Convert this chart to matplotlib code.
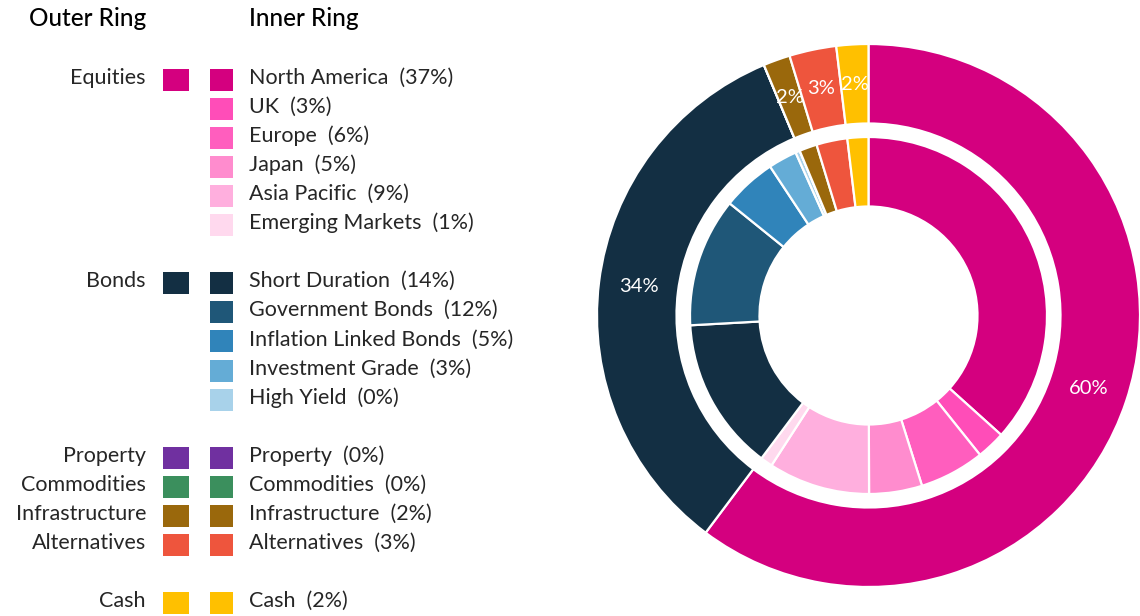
import matplotlib.pyplot as plt
from matplotlib.patches import Rectangle
import numpy as np

plt.rcParams['font.family'] = ['Lato', 'DejaVu Sans']

# inner ring: sub-asset classes (% of portfolio)
inner_names = ['North America', 'UK', 'Europe', 'Japan', 'Asia Pacific', 'Emerging Markets',
               'Short Duration', 'Government Bonds', 'Inflation Linked Bonds',
               'Investment Grade', 'High Yield',
               'Property', 'Commodities', 'Infrastructure', 'Alternatives', 'Cash']
inner_values = [36.7, 2.6, 5.9, 4.8, 9.2, 1.1,
                13.9, 11.7, 4.9, 2.6, 0.4,
                0.0, 0.0, 1.6, 2.8, 1.9]
inner_colors = ['#D4007F', '#FF4DB8', '#FF5EBE', '#FF8CCE', '#FFAFDE', '#FFD9EE',
                '#132F43', '#1F5778', '#3084BA', '#64ACD6', '#A8D2EA',
                '#7030A0', '#3B8F5D', '#9A680C', '#EE553D', '#FFC000']
inner_group = [0, 0, 0, 0, 0, 0, 1, 1, 1, 1, 1, 2, 3, 4, 5, 6]

# outer ring: asset classes
outer_names = ['Equities', 'Bonds', 'Property', 'Commodities', 'Infrastructure', 'Alternatives', 'Cash']
outer_colors = ['#D4007F', '#132F43', '#7030A0', '#3B8F5D', '#9A680C', '#EE553D', '#FFC000']
outer_values = [sum(v for v, g in zip(inner_values, inner_group) if g == i)
                for i in range(len(outer_names))]

# legend row index for each inner entry (blank rows between groups)
legend_rows = [0, 1, 2, 3, 4, 5, 7, 8, 9, 10, 11, 13, 14, 15, 16, 18]

W, H = 1140, 616
fig = plt.figure(figsize=(W / 100, H / 100), dpi=100)

# ---- legend drawn in pixel coordinates
lg = fig.add_axes([0, 0, 1, 1])
lg.set_xlim(0, W)
lg.set_ylim(H, 0)
lg.axis('off')

txt = '#262626'
fs = 15.5
lg.text(29, 19, 'Outer Ring', fontsize=17.5, color='black', va='center', ha='left', fontweight='medium')
lg.text(249, 19, 'Inner Ring', fontsize=17.5, color='black', va='center', ha='left', fontweight='medium')

row0, step = 79.5, 29.1
shown = set()
for name, val, col, grp, row in zip(inner_names, inner_values, inner_colors, inner_group, legend_rows):
    y = row0 + step * row
    if grp not in shown:
        shown.add(grp)
        lg.text(146, y - 2, outer_names[grp], fontsize=fs, color=txt, va='center', ha='right')
        lg.add_patch(Rectangle((163, y - 11), 26, 22, color=outer_colors[grp], lw=0))
    lg.add_patch(Rectangle((210, y - 11), 23, 22, color=col, lw=0))
    lg.text(249, y - 2, f'{name}  ({round(val)}%)', fontsize=fs, color=txt, va='center', ha='left')

# ---- donut
cx, cy, R = 868.5, 315.5, 271.5
ax = fig.add_axes([(cx - R) / W, (H - cy - R) / H, 2 * R / W, 2 * R / H])

edge = dict(edgecolor='white', linewidth=1.6)
outer_w = (R - 192) / R
wedges, _ = ax.pie(outer_values, radius=1, colors=outer_colors, startangle=90, counterclock=False,
                   wedgeprops=dict(width=outer_w, **edge))
ax.pie(inner_values, radius=178.5 / R, colors=inner_colors, startangle=90, counterclock=False,
       wedgeprops=dict(width=(178.5 - 109) / R, **edge))
# pie() resets the limits, so fix them afterwards
ax.set_xlim(-1, 1)
ax.set_ylim(-1, 1)
ax.axis('off')

r_lab = 1 - outer_w / 2
for w, v in zip(wedges, outer_values):
    if v <= 0:
        continue
    ang = np.deg2rad((w.theta1 + w.theta2) / 2)
    ax.text(r_lab * np.cos(ang), r_lab * np.sin(ang), f'{round(v)}%', color='white',
            fontsize=14.5, ha='center', va='center')

fig.savefig('out.png', dpi=100)
